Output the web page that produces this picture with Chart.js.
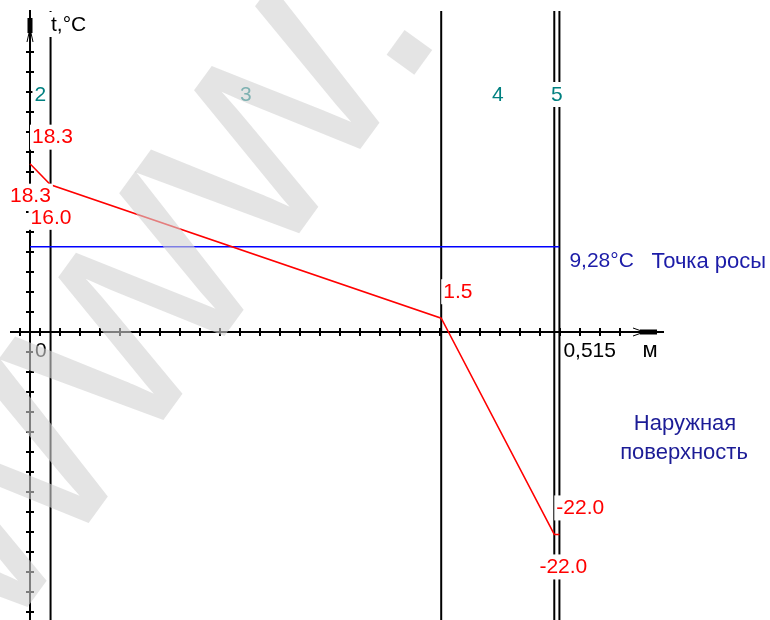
<!DOCTYPE html>
<html>
<head>
<meta charset="utf-8">
<script src="https://cdn.jsdelivr.net/npm/chart.js@4/dist/chart.umd.min.js"></script>
<style>
  html, body { margin: 0; padding: 0; background: #ffffff; }
  #wrap { width: 770px; height: 620px; }
</style>
</head>
<body>
<div id="wrap"><canvas id="chart" width="770" height="620"></canvas></div>
<script>
// Layer boundaries through the wall, m (inner surface at 0)
const xBoundaries = [0, 0.02, 0.40, 0.51, 0.515];
// Temperature at each boundary, °C
const temps = [18.3, 16.0, 1.5, -22.0, -22.0];
// Layer numbers written between the boundaries
const layerNumbers = ['2', '3', '4', '5'];
// Dew point temperature, °C
const dewPoint = 9.28;
// Which boundary each temperature label belongs to, and on which side it sits
const labelPoints = [0, 0, 1, 2, 3, 4];
const labelSides = ['above', 'below', 'below', 'above', 'above', 'below'];
// Axis captions
const yCaption = 't,°C';
const xUnit = 'м';
const dewCaption = 'Точка росы';
const outerCaption = ['Наружная', 'поверхность'];

// Visible window of the drawing and tick spacing along both axes
const X_VIEW = [-0.02918, 0.71984];
const Y_VIEW = [-31.30, 36.09];
const X_TICK_STEP = 0.019455;
const Y_TICK_STEP = 2.174;

const FONT = '21px "Liberation Sans", Arial, sans-serif';
const FONT_CYR = '22px "Liberation Sans", Arial, sans-serif';
const fmtComma = (v, d) => v.toFixed(d).replace('.', ',');

function seg(ctx, x1, y1, x2, y2) {
  ctx.beginPath(); ctx.moveTo(x1, y1); ctx.lineTo(x2, y2); ctx.stroke();
}

// Text on an opaque white cell, as the drawing tool paints its captions
function boxText(ctx, text, left, cy, color, align, font) {
  ctx.font = font || FONT;
  const w = ctx.measureText(text).width;
  let l = left;
  if (align === 'center') l = left - w / 2;
  ctx.fillStyle = '#ffffff';
  ctx.fillRect(l - 2, cy - 12, w + 4, 25);
  ctx.fillStyle = color;
  ctx.textAlign = 'left';
  ctx.textBaseline = 'middle';
  ctx.fillText(text, l, cy + 1);
}

const axesPlugin = {
  id: 'wallAxes',
  beforeDatasetsDraw(chart) {
    const { ctx, chartArea, scales: { x, y } } = chart;
    const x0 = Math.round(x.getPixelForValue(0));
    const y0 = Math.round(y.getPixelForValue(0));
    ctx.save();
    ctx.strokeStyle = '#000000';
    ctx.fillStyle = '#000000';
    ctx.lineWidth = 2;

    // layer boundaries
    xBoundaries.forEach(b => {
      if (b === 0) return;
      const px = x.getPixelForValue(b);
      seg(ctx, px, chartArea.top + 11, px, chartArea.bottom);
    });

    // vertical axis with arrow
    seg(ctx, x0, chartArea.top + 10, x0, chartArea.bottom);
    ctx.fillRect(x0 - 2.5, chartArea.top + 18, 5, 15);
    ctx.lineWidth = 1;
    seg(ctx, x0 - 3, chartArea.top + 42, x0 - 1, chartArea.top + 33);
    seg(ctx, x0 + 3, chartArea.top + 42, x0 + 1, chartArea.top + 33);
    ctx.lineWidth = 2;

    // horizontal axis with arrow
    const xEnd = 664;
    seg(ctx, chartArea.left + 10, y0, xEnd, y0);
    ctx.fillRect(640, y0 - 2.5, 17, 5);
    ctx.lineWidth = 1;
    seg(ctx, 633, y0 - 4, 640, y0 - 1.5);
    seg(ctx, 633, y0 + 4, 640, y0 + 1.5);
    seg(ctx, 634, y0, 640, y0);
    ctx.lineWidth = 2;

    // ticks on the vertical axis
    for (let k = -20; k <= 20; k++) {
      if (k === 0) continue;
      const py = Math.round(y.getPixelForValue(k * Y_TICK_STEP));
      if (py < chartArea.top + 50 || py > chartArea.bottom) continue;
      seg(ctx, x0 - 4, py, x0 + 4, py);
    }
    // ticks on the horizontal axis
    for (let k = -2; k <= 40; k++) {
      const px = Math.round(x.getPixelForValue((k - 0.5) * X_TICK_STEP));
      if (px < chartArea.left + 14 || px > 630) continue;
      seg(ctx, px, y0 - 4, px, y0 + 4);
    }
    ctx.restore();
  },
  afterDatasetsDraw(chart) {
    const { ctx, scales: { x, y } } = chart;
    const x0 = x.getPixelForValue(0);
    const y0 = y.getPixelForValue(0);
    ctx.save();

    // axis captions
    boxText(ctx, yCaption, x0 + 21, 24, '#000000');
    boxText(ctx, fmtComma(xBoundaries[0], 0), x0 + 5, y0 + 18, '#000000');
    const xLast = x.getPixelForValue(xBoundaries[xBoundaries.length - 1]);
    boxText(ctx, fmtComma(xBoundaries[xBoundaries.length - 1], 3), xLast + 4, y0 + 18, '#000000');
    boxText(ctx, xUnit, 650, y0 + 18, '#000000', 'center', FONT_CYR);

    // layer numbers
    layerNumbers.forEach((n, i) => {
      const mid = (x.getPixelForValue(xBoundaries[i]) + x.getPixelForValue(xBoundaries[i + 1])) / 2;
      boxText(ctx, n, mid, 94, '#008080', 'center');
    });

    // temperature labels at the boundaries
    labelPoints.forEach((idx, j) => {
      const px = x.getPixelForValue(xBoundaries[idx]);
      const py = y.getPixelForValue(temps[idx]);
      const txt = temps[idx].toFixed(1);
      if (labelSides[j] === 'above') boxText(ctx, txt, px + 2, py - 27, '#ff0000');
      else boxText(ctx, txt, px - 20, py + 32, '#ff0000');
    });

    // dew point caption
    const dy = y.getPixelForValue(dewPoint);
    boxText(ctx, fmtComma(dewPoint, 2) + '°C', xLast + 10, dy + 14, '#1c1ca8');
    boxText(ctx, dewCaption, xLast + 92, dy + 14, '#1c1ca8', 'left', FONT_CYR);

    // outer surface caption
    boxText(ctx, outerCaption[0], 685, 423, '#1c1c96', 'center', FONT_CYR);
    boxText(ctx, outerCaption[1], 684, 452, '#1c1c96', 'center', FONT_CYR);
    ctx.restore();
  },
  afterDraw(chart) {
    // translucent site mark laid over the drawing
    const { ctx } = chart;
    ctx.save();
    ctx.translate(0, 645);
    ctx.rotate(-54 * Math.PI / 180);
    ctx.globalAlpha = 0.6;
    ctx.fillStyle = '#d2d2d2';
    ctx.font = '320px "Liberation Sans", Arial, sans-serif';
    ctx.textAlign = 'left';
    ctx.textBaseline = 'alphabetic';
    ctx.fillText('www.', 0, 0);
    ctx.restore();
  }
};

const profile = xBoundaries.map((b, i) => ({ x: b, y: temps[i] }));
const dewLine = [
  { x: xBoundaries[0], y: dewPoint },
  { x: xBoundaries[xBoundaries.length - 1], y: dewPoint }
];

new Chart(document.getElementById('chart'), {
  type: 'scatter',
  data: {
    datasets: [
      {
        label: 't',
        data: profile,
        showLine: true,
        borderColor: '#ff0000',
        borderWidth: 1.5,
        pointRadius: 0,
        tension: 0,
        fill: false
      },
      {
        label: 'dew',
        data: dewLine,
        showLine: true,
        borderColor: '#0000ff',
        borderWidth: 1.5,
        pointRadius: 0,
        fill: false
      }
    ]
  },
  options: {
    responsive: false,
    animation: false,
    layout: { padding: 0 },
    plugins: { legend: { display: false }, tooltip: { enabled: false } },
    scales: {
      x: { type: 'linear', min: X_VIEW[0], max: X_VIEW[1], display: false },
      y: { type: 'linear', min: Y_VIEW[0], max: Y_VIEW[1], display: false }
    }
  },
  plugins: [axesPlugin]
});
</script>
</body>
</html>
